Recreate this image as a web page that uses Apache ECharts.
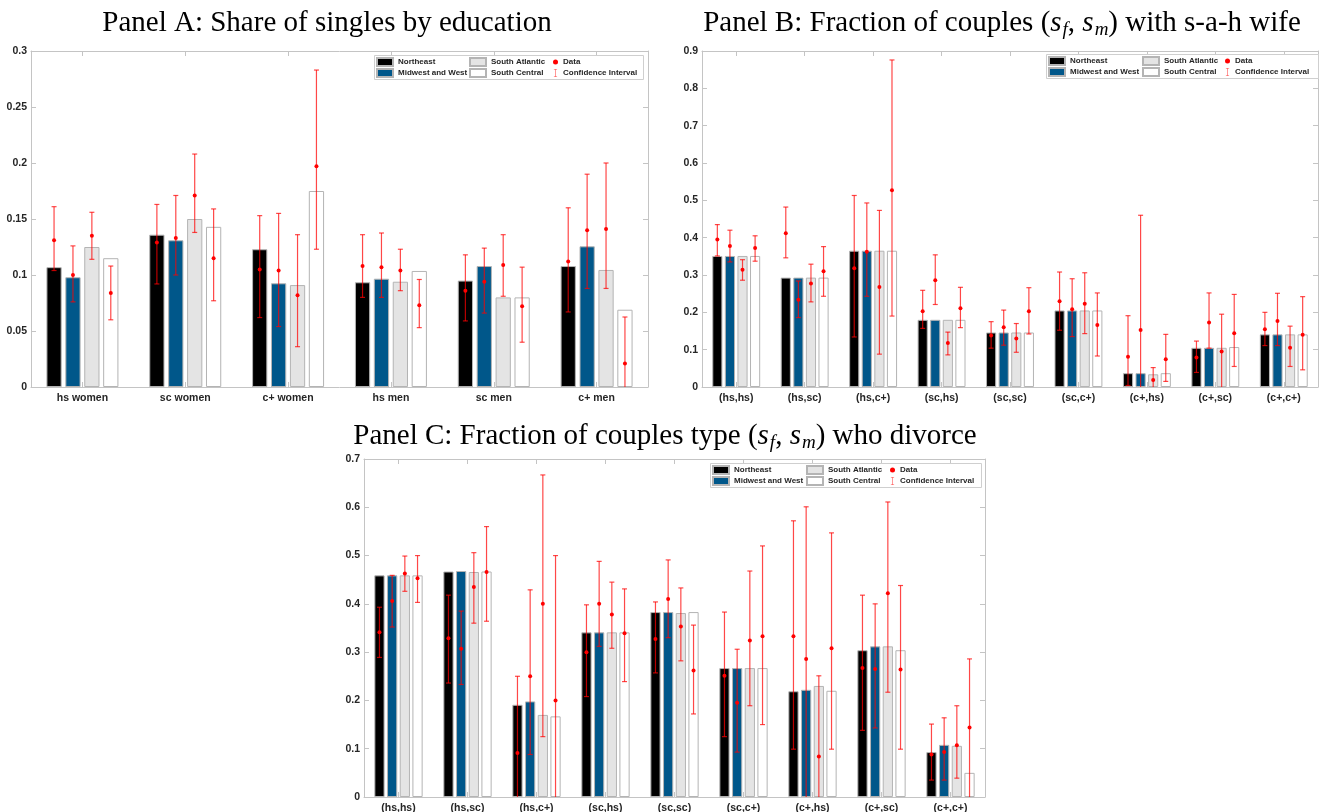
<!DOCTYPE html>
<html>
<head>
<meta charset="utf-8">
<script src="https://cdn.jsdelivr.net/npm/echarts@6/dist/echarts.min.js"></script>
<style>
  html, body { margin: 0; background: #fff; }
  #chart { width: 1319px; height: 812px; }
</style>
</head>
<body>
<div id="chart"></div>
<script>
// regions (bar series), same order in every panel
var REGIONS = ['Northeast', 'Midwest and West', 'South Atlantic', 'South Central'];

// Panel A: share of singles by education
var catsA = ['hs women', 'sc women', 'c+ women', 'hs men', 'sc men', 'c+ men'];
var barsA = [
  [0.107, 0.136, 0.123, 0.0935, 0.095, 0.108],
  [0.098, 0.131, 0.0926, 0.0967, 0.108, 0.1256],
  [0.125, 0.150, 0.091, 0.094, 0.080, 0.1045],
  [0.115, 0.143, 0.175, 0.1036, 0.080, 0.069]
];
var dataA = [
  [0.131, 0.129, 0.105, 0.108, 0.086, 0.112],
  [0.100, 0.133, 0.104, 0.107, 0.094, 0.140],
  [0.135, 0.171, 0.082, 0.104, 0.109, 0.141],
  [0.084, 0.115, 0.197, 0.073, 0.072, 0.021]
];
var loA = [
  [0.104, 0.092, 0.062, 0.080, 0.059, 0.067],
  [0.076, 0.100, 0.054, 0.080, 0.066, 0.088],
  [0.114, 0.138, 0.036, 0.086, 0.081, 0.088],
  [0.060, 0.077, 0.123, 0.053, 0.040, -0.02]
];
var hiA = [
  [0.161, 0.163, 0.153, 0.136, 0.118, 0.160],
  [0.126, 0.171, 0.155, 0.1375, 0.124, 0.190],
  [0.156, 0.208, 0.136, 0.123, 0.136, 0.200],
  [0.108, 0.159, 0.283, 0.096, 0.107, 0.0625]
];

// Panel B: fraction of couples with stay-at-home wife
var catsB = ['(hs,hs)', '(hs,sc)', '(hs,c+)', '(sc,hs)', '(sc,sc)', '(sc,c+)', '(c+,hs)', '(c+,sc)', '(c+,c+)'];
var barsB = [
  [0.351, 0.293, 0.365, 0.180, 0.146, 0.205, 0.037, 0.105, 0.141],
  [0.351, 0.293, 0.365, 0.180, 0.146, 0.205, 0.037, 0.105, 0.141],
  [0.351, 0.293, 0.365, 0.180, 0.146, 0.205, 0.034, 0.105, 0.141],
  [0.351, 0.293, 0.365, 0.180, 0.146, 0.205, 0.037, 0.107, 0.141]
];
var dataB = [
  [0.395, 0.412, 0.318, 0.203, 0.138, 0.230, 0.081, 0.079, 0.155],
  [0.378, 0.234, 0.362, 0.286, 0.160, 0.208, 0.153, 0.173, 0.177],
  [0.314, 0.277, 0.268, 0.118, 0.130, 0.223, 0.019, 0.095, 0.105],
  [0.372, 0.310, 0.527, 0.211, 0.203, 0.166, 0.074, 0.144, 0.140]
];
var loB = [
  [0.351, 0.346, 0.134, 0.157, 0.104, 0.152, 0.004, 0.039, 0.111],
  [0.335, 0.186, 0.243, 0.221, 0.112, 0.135, -0.01, 0.104, 0.111],
  [0.286, 0.228, 0.088, 0.086, 0.093, 0.143, -0.01, -0.01, 0.055],
  [0.337, 0.243, 0.190, 0.159, 0.142, 0.083, 0.015, 0.055, 0.046]
];
var hiB = [
  [0.435, 0.482, 0.513, 0.259, 0.175, 0.308, 0.191, 0.123, 0.200],
  [0.420, 0.284, 0.493, 0.354, 0.206, 0.290, 0.460, 0.252, 0.251],
  [0.341, 0.329, 0.473, 0.147, 0.170, 0.306, 0.052, 0.195, 0.163],
  [0.405, 0.376, 0.876, 0.267, 0.266, 0.252, 0.141, 0.248, 0.242]
];

// Panel C: fraction of couples who divorce
var catsC = catsB;
var barsC = [
  [0.459, 0.467, 0.191, 0.341, 0.383, 0.267, 0.219, 0.304, 0.093],
  [0.459, 0.468, 0.198, 0.341, 0.383, 0.267, 0.222, 0.312, 0.108],
  [0.459, 0.466, 0.170, 0.341, 0.381, 0.267, 0.230, 0.312, 0.106],
  [0.459, 0.467, 0.167, 0.341, 0.383, 0.267, 0.220, 0.304, 0.050]
];
var dataC = [
  [0.341, 0.329, 0.091, 0.300, 0.327, 0.251, 0.333, 0.267, 0.088],
  [0.406, 0.307, 0.250, 0.400, 0.410, 0.195, 0.286, 0.265, 0.093],
  [0.463, 0.435, 0.400, 0.378, 0.353, 0.324, 0.084, 0.422, 0.107],
  [0.453, 0.466, 0.200, 0.339, 0.262, 0.333, 0.308, 0.264, 0.144]
];
var loC = [
  [0.289, 0.236, -0.01, 0.208, 0.257, 0.125, 0.099, 0.138, 0.035],
  [0.352, 0.233, 0.088, 0.312, 0.330, 0.093, -0.01, 0.143, 0.035],
  [0.426, 0.360, 0.125, 0.308, 0.282, 0.189, -0.01, 0.217, 0.039],
  [0.403, 0.364, -0.01, 0.239, 0.172, 0.150, 0.099, 0.099, -0.01]
];
var hiC = [
  [0.393, 0.418, 0.250, 0.398, 0.404, 0.383, 0.572, 0.418, 0.151],
  [0.459, 0.385, 0.429, 0.488, 0.491, 0.306, 0.601, 0.400, 0.164],
  [0.499, 0.506, 0.667, 0.445, 0.433, 0.468, 0.251, 0.611, 0.189],
  [0.500, 0.560, 0.500, 0.431, 0.356, 0.520, 0.547, 0.438, 0.286]
];

var yMaxA = 0.3, yStepA = 0.05;
var yMaxB = 0.9, yStepB = 0.1;
var yMaxC = 0.7, yStepC = 0.1;

// ---- styling / layout ----
var FILL = ['#000000', '#00578a', '#e4e4e4', '#ffffff'];
var EDGE = '#b4b4b4';
var AXIS = '#c4c4c4';
var TXT = '#262626';
var RED = '#ff0000';
var CI_RED = 'rgba(255,0,0,0.72)';
var CAT_GAP = 0.3, BAR_GAP = 0.24;
var SERIF = '"Liberation Serif", "DejaVu Serif", serif';
var SANS = '"Liberation Sans", Arial, sans-serif';
var TITLE_SIZE = 29;
var CI_ICON = 'path://M0,0H4V0.7H2.35V9.3H4V10H0V9.3H1.65V0.7H0Z';

var panels = [
  { cats: catsA, bars: barsA, pts: dataA, lo: loA, hi: hiA, max: yMaxA, step: yStepA,
    grid: { left: 31, top: 51, width: 617, height: 336 },
    legendX: [376, 469, 553], legendTop: 57, box: [374, 55, 269, 24] },
  { cats: catsB, bars: barsB, pts: dataB, lo: loB, hi: hiB, max: yMaxB, step: yStepB,
    grid: { left: 702, top: 51, width: 616, height: 336 },
    legendX: [1048, 1142, 1225], legendTop: 56, box: [1046, 54, 272, 24] },
  { cats: catsC, bars: barsC, pts: dataC, lo: loC, hi: hiC, max: yMaxC, step: yStepC,
    grid: { left: 364, top: 459, width: 621, height: 338 },
    legendX: [712, 806, 890], legendTop: 465, box: [710, 463, 271, 24] }
];

function barOffset(band, r) {
  var total = band * (1 - CAT_GAP);
  var w = total / (4 + 3 * BAR_GAP);
  return -total / 2 + w / 2 + r * w * (1 + BAR_GAP);
}

function renderCI(params, api) {
  var i = api.value(0), r = api.value(3);
  var x = api.coord([i, 0])[0] + barOffset(api.size([1, 0])[0], r);
  var yl = api.coord([i, api.value(1)])[1];
  var yh = api.coord([i, api.value(2)])[1];
  var cap = 2.5;
  var st = { stroke: CI_RED, lineWidth: 1.2 };
  return {
    type: 'group',
    children: [
      { type: 'line', shape: { x1: x, y1: yh, x2: x, y2: yl }, style: st },
      { type: 'line', shape: { x1: x - cap, y1: yh, x2: x + cap, y2: yh }, style: st },
      { type: 'line', shape: { x1: x - cap, y1: yl, x2: x + cap, y2: yl }, style: st }
    ]
  };
}

function renderDot(params, api) {
  var i = api.value(0), r = api.value(2);
  var p = api.coord([i, api.value(1)]);
  var x = p[0] + barOffset(api.size([1, 0])[0], r);
  return { type: 'circle', shape: { cx: x, cy: p[1], r: 2 }, style: { fill: RED } };
}

var grids = [], xAxes = [], yAxes = [], series = [], legends = [], graphics = [];
var labelStyle = { color: TXT, fontSize: 10.5, fontWeight: 'bold', fontFamily: SANS };
var legendText = { color: TXT, fontSize: 8, fontWeight: 'bold', fontFamily: SANS, lineHeight: 10 };

panels.forEach(function (p, k) {
  grids.push(Object.assign({ outerBoundsMode: 'none', containLabel: false }, p.grid));
  var tick = { show: true, inside: true, length: 5, alignWithLabel: true, lineStyle: { color: AXIS } };
  var line = { show: true, onZero: false, lineStyle: { color: AXIS, width: 1 } };
  xAxes.push({ type: 'category', gridIndex: k, position: 'bottom', data: p.cats,
    axisLine: line, axisTick: tick, axisLabel: Object.assign({ margin: 6, interval: 0 }, labelStyle) });
  xAxes.push({ type: 'category', gridIndex: k, position: 'top', data: p.cats,
    axisLine: line, axisTick: tick, axisLabel: { show: false } });
  var yBase = { type: 'value', gridIndex: k, min: 0, max: p.max, interval: p.step,
    splitLine: { show: false }, axisLine: line,
    axisTick: { show: true, inside: true, length: 5, lineStyle: { color: AXIS } } };
  yAxes.push(Object.assign({ position: 'left', axisLabel: Object.assign({ margin: 4 }, labelStyle) }, yBase));
  yAxes.push(Object.assign({ position: 'right', axisLabel: { show: false } }, yBase));

  REGIONS.forEach(function (name, r) {
    series.push({
      type: 'bar', name: name, xAxisIndex: 2 * k, yAxisIndex: 2 * k,
      data: p.bars[r], barGap: (BAR_GAP * 100) + '%', barCategoryGap: (CAT_GAP * 100) + '%',
      itemStyle: { color: FILL[r], borderColor: EDGE, borderWidth: 1 },
      emphasis: { disabled: true }, z: 2
    });
  });

  var ciData = [], ptData = [];
  p.lo.forEach(function (row, r) {
    row.forEach(function (v, i) {
      ciData.push([i, v, p.hi[r][i], r]);
      ptData.push([i, p.pts[r][i], r]);
    });
  });
  series.push({
    type: 'custom', name: 'Confidence Interval', xAxisIndex: 2 * k, yAxisIndex: 2 * k,
    data: ciData, encode: { x: 0, y: [1, 2] }, renderItem: renderCI, clip: true, z: 3,
    itemStyle: { color: CI_RED }, silent: true
  });
  series.push({
    type: 'custom', name: 'Data', xAxisIndex: 2 * k, yAxisIndex: 2 * k,
    data: ptData, encode: { x: 0, y: 1 }, renderItem: renderDot, clip: true, z: 4,
    itemStyle: { color: RED }, silent: true
  });

  var legBase = { orient: 'vertical', top: p.legendTop, padding: 0, itemGap: 1,
    selectedMode: false, textStyle: legendText, z: 10 };
  legends.push(Object.assign({ left: p.legendX[0], itemWidth: 16, itemHeight: 8,
    data: [{ name: REGIONS[0], icon: 'rect' }, { name: REGIONS[1], icon: 'rect' }] }, legBase));
  legends.push(Object.assign({ left: p.legendX[1], itemWidth: 16, itemHeight: 8,
    data: [{ name: REGIONS[2], icon: 'rect' }, { name: REGIONS[3], icon: 'rect' }] }, legBase));
  legends.push(Object.assign({ left: p.legendX[2], itemWidth: 5, itemHeight: 8,
    data: [{ name: 'Data', icon: 'circle', itemStyle: { color: RED } },
           { name: 'Confidence Interval', icon: CI_ICON, itemStyle: { color: CI_RED } }] }, legBase));

  graphics.push({
    type: 'rect', z: 8, silent: true,
    shape: { x: p.box[0] + 0.5, y: p.box[1] + 0.5, width: p.box[2], height: p.box[3] },
    style: { fill: '#ffffff', stroke: '#cfcfcf', lineWidth: 1 }
  });
});

// panel titles (math in rich text)
var titleRich = {
  it: { fontFamily: SERIF, fontSize: TITLE_SIZE, fontStyle: 'italic', fill: '#000' },
  sub: { fontFamily: SERIF, fontSize: 19, fontStyle: 'italic', fill: '#000', padding: [14, 0, 0, 1] }
};
var TITLES = [
  { x: 327, y: 23, text: 'Panel A: Share of singles by education' },
  { x: 1002, y: 23, text: 'Panel B: Fraction of couples ({it|s}{sub|f}, {it|s}{sub|m}) with s-a-h wife' },
  { x: 665, y: 436, text: 'Panel C: Fraction of couples type ({it|s}{sub|f}, {it|s}{sub|m}) who divorce' }
];
TITLES.forEach(function (t) {
  graphics.push({
    type: 'text', x: t.x, y: t.y, z: 10, silent: true,
    style: { text: t.text, fontFamily: SERIF, fontSize: TITLE_SIZE, fill: '#000',
      align: 'center', verticalAlign: 'middle', rich: titleRich }
  });
});

var chart = echarts.init(document.getElementById('chart'), null, { renderer: 'canvas' });
chart.setOption({
  backgroundColor: '#ffffff',
  animation: false,
  grid: grids,
  xAxis: xAxes,
  yAxis: yAxes,
  legend: legends,
  series: series,
  graphic: graphics
});
</script>
</body>
</html>
